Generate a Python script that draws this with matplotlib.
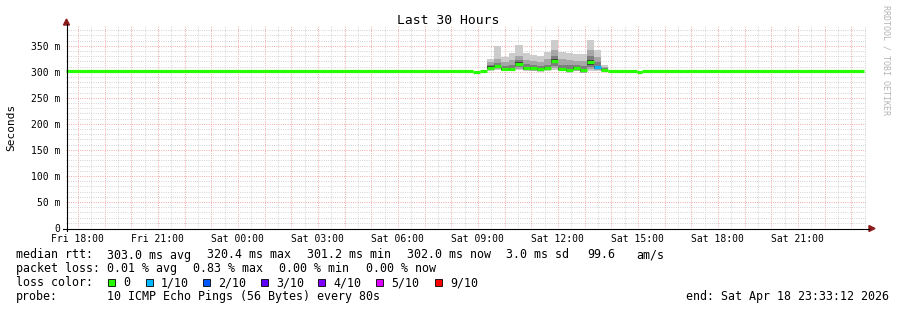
import datetime as dt
import matplotlib
matplotlib.use('Agg')
import matplotlib.pyplot as plt
import matplotlib.dates as mdates
from matplotlib.patches import Rectangle, Polygon
from matplotlib.lines import Line2D
from matplotlib.ticker import MultipleLocator, FuncFormatter

plt.rcParams['font.family'] = ['DejaVu Sans Mono']

t_start = dt.datetime(2026, 4, 17, 17, 33, 12)
t_end = dt.datetime(2026, 4, 18, 23, 33, 12)

# median line outside the smoke region (ms)
line_from = ['04-17 17:33', '04-18 08:49', '04-18 09:05', '04-18 13:53', '04-18 14:57', '04-18 15:09']
line_to   = ['04-18 08:49', '04-18 09:05', '04-18 09:20', '04-18 14:57', '04-18 15:09', '04-18 23:29']
line_val  = [302, 299, 302, 302, 300, 302]

# smoke bins (start times), last entry is end of last bin
bin_edges = ['09:20', '09:36', '09:53', '10:10', '10:24', '10:41', '10:57', '11:13', '11:29',
             '11:44', '12:00', '12:18', '12:34', '12:50', '13:05', '13:21', '13:37', '13:53']
smoke_max = [324, 349, 328, 336, 352, 337, 333, 331, 339, 361, 339, 337, 334, 334, 361, 342, 313]
smoke_hi2 = [318, 324, 318, 322, 330, 322, 320, 318, 324, 342, 324, 322, 320, 320, 342, 328, 309]
smoke_hi3 = [314, 317, 311, 313, 323, 315, 313, 312, 314, 331, 314, 313, 314, 312, 331, 319, 307]
smoke_hi4 = [311, 313, 307, 307, 318, 309, 309, 307, 309, 324, 307, 306, 309, 306, 322, 312, 305]
median    = [308, 311, 305, 305, 315, 307, 307, 305, 307, 320, 305, 304, 307, 304, 318, 310, 304]
smoke_lo4 = [306, 309, 304, 304, 312, 305, 305, 304, 305, 316, 304, 302, 305, 301, 314, 308, 303]
smoke_lo3 = [305, 307, 303, 303, 309, 304, 304, 303, 304, 311, 303, 301, 304, 299, 310, 306, 302]
smoke_lo2 = [304, 305, 302, 302, 306, 303, 302, 302, 303, 307, 302, 300, 302, 298, 306, 304, 302]
smoke_min = [302, 303, 301, 301, 303, 301, 301, 300, 301, 303, 301, 298, 301, 297, 302, 302, 301]
loss      = [0, 0, 0, 0, 0, 0, 0, 0, 0, 0, 0, 0, 0, 0, 0, 1, 0]

loss_labels = ['0', '1/10', '2/10', '3/10', '4/10', '5/10', '9/10']
loss_colors = ['#26ff00', '#00b8ff', '#0059ff', '#5e00ff', '#7e00ff', '#dd00ff', '#ff0000']
loss_box_x = [108, 146, 203, 261, 318, 376, 435]

W, H = 897, 310
fig = plt.figure(figsize=(W / 100, H / 100), dpi=100)
ax = fig.add_axes([66 / W, 82 / H, 800 / W, 202 / H])

def ts(s):
    return dt.datetime.strptime('2026-' + s, '%Y-%m-%d %H:%M')

edges = [dt.datetime.strptime('2026-04-18 ' + e, '%Y-%m-%d %H:%M') for e in bin_edges]
starts = mdates.date2num(edges[:-1])
widths = [mdates.date2num(edges[i + 1]) - mdates.date2num(edges[i]) for i in range(len(edges) - 1)]

# smoke layers, outer to inner
layers = [(smoke_min, smoke_max, '#cccccc'),
          (smoke_lo2, smoke_hi2, '#a6a6a6'),
          (smoke_lo3, smoke_hi3, '#7e7e7e'),
          (smoke_lo4, smoke_hi4, '#3a3a3a')]
for lo, hi, c in layers:
    ax.bar(starts, [h - l for h, l in zip(hi, lo)], width=widths, bottom=lo,
           align='edge', color=c, linewidth=0, zorder=3)

ax.hlines(line_val, [ts(s) for s in line_from], [ts(s) for s in line_to],
          color=loss_colors[0], lw=2.3, zorder=4)
ax.hlines(median, edges[:-1], edges[1:], color=[loss_colors[l] for l in loss],
          lw=2.3, zorder=4)

ax.set_xlim(t_start, t_end)
ax.set_ylim(0, 388)

ax.xaxis.set_major_locator(mdates.HourLocator(interval=1))
ax.xaxis.set_minor_locator(mdates.MinuteLocator(byminute=[30]))

def xfmt(x, pos):
    d = mdates.num2date(x)
    return d.strftime('%a %H:%M') if d.hour % 3 == 0 else ''

ax.xaxis.set_major_formatter(FuncFormatter(xfmt))
ax.yaxis.set_major_locator(MultipleLocator(50))
ax.yaxis.set_minor_locator(MultipleLocator(10))
ax.yaxis.set_major_formatter(FuncFormatter(lambda v, p: '0' if v == 0 else '%d m' % v))

ax.grid(which='minor', color='#cccccc', linestyle=(0, (1, 1.5)), lw=0.65, zorder=0)
ax.grid(which='major', color='#f09a9a', linestyle=(0, (1, 1.5)), lw=0.65, zorder=1)
ax.set_axisbelow(True)

ax.tick_params(which='major', length=0, pad=4, labelsize=7)
ax.tick_params(which='minor', length=0)
for sp in ax.spines.values():
    sp.set_visible(False)

# axes lines and arrows (pixel coords)
def fx(px):
    return px / W

def fy(py):
    return 1 - py / H

fig.add_artist(Line2D([fx(66.5), fx(66.5)], [fy(231), fy(24)], color='black', lw=0.8))
fig.add_artist(Line2D([fx(63), fx(869)], [fy(228.5), fy(228.5)], color='black', lw=0.8))
fig.add_artist(Polygon([[fx(63.5), fy(25)], [fx(69.5), fy(25)], [fx(66.5), fy(19)]],
                       closed=True, color='#8c1c1c', transform=fig.transFigure))
fig.add_artist(Polygon([[fx(869), fy(225.5)], [fx(869), fy(231.5)], [fx(875), fy(228.5)]],
                       closed=True, color='#8c1c1c', transform=fig.transFigure))

fig.text(fx(448), fy(20), 'Last 30 Hours', ha='center', va='center', fontsize=9.4)
fig.text(fx(11), fy(127), 'Seconds', rotation=90, ha='center', va='center', fontsize=8)
fig.text(fx(886), fy(60), 'RRDTOOL / TOBI OETIKER', rotation=270, ha='center', va='center',
         fontsize=6, color='#b4b4b4')

fs = 8.4
row1 = [(16, 'median rtt:'), (107, '303.0 ms avg'), (207, '320.4 ms max'), (307, '301.2 ms min'),
        (407, '302.0 ms now'), (506, '3.0 ms sd'), (587, '99.6'), (636, 'am/s')]
row2 = [(16, 'packet loss:'), (107, '0.01 % avg'), (193, '0.83 % max'), (279, '0.00 % min'),
        (366, '0.00 % now')]
for x, s in row1:
    fig.text(fx(x), fy(258.5), s, fontsize=fs, va='baseline')
for x, s in row2:
    fig.text(fx(x), fy(272), s, fontsize=fs, va='baseline')
fig.text(fx(16), fy(286), 'loss color:', fontsize=fs, va='baseline')
for x, lab, c in zip(loss_box_x, loss_labels, loss_colors):
    fig.add_artist(Rectangle((fx(x), fy(286)), 7 / W, 7 / H, facecolor=c, edgecolor='black',
                             lw=0.6, transform=fig.transFigure))
    fig.text(fx(x + 15), fy(286), lab, fontsize=fs, va='baseline')
fig.text(fx(16), fy(300), 'probe:', fontsize=fs, va='baseline')
fig.text(fx(107), fy(300), '10 ICMP Echo Pings (56 Bytes) every 80s', fontsize=fs, va='baseline')
fig.text(fx(889), fy(300), 'end: Sat Apr 18 23:33:12 2026', fontsize=fs, va='baseline', ha='right')

fig.savefig('out.png', dpi=100, facecolor='white')
